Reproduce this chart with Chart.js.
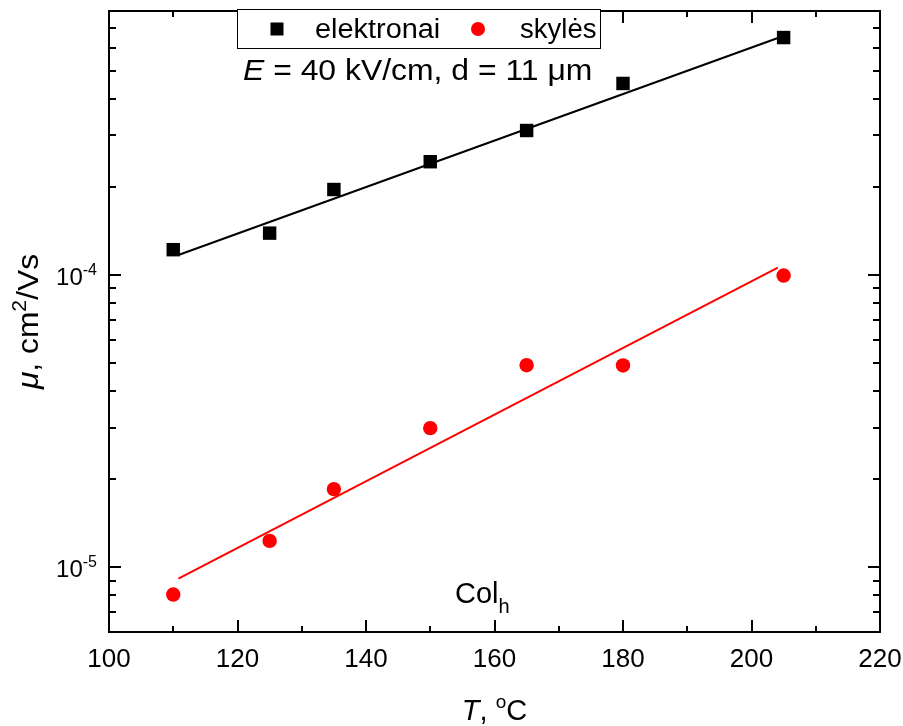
<!DOCTYPE html>
<html>
<head>
<meta charset="utf-8">
<script src="https://cdn.jsdelivr.net/npm/chart.js@4.4.1/dist/chart.umd.min.js"></script>
<style>
    html, body { margin: 0; padding: 0; background: #fff; }
    #wrap { width: 903px; height: 726px; }
</style>
</head>
<body>
<div id="wrap"><canvas id="chart" width="903" height="726"></canvas></div>
<script>
const temps = [110, 125, 135, 150, 165, 180, 205];
const electrons = [1.22e-4, 1.39e-4, 1.96e-4, 2.44e-4, 3.12e-4, 4.52e-4, 6.49e-4];
const holes = [8.06e-6, 1.23e-5, 1.85e-5, 2.99e-5, 4.91e-5, 4.90e-5, 9.95e-5];

// fit lines (end points)
const fitT = [110.8, 204.1];
const electronFit = [1.17e-4, 6.47e-4];
const holeFit = [9.13e-6, 1.059e-4];

// axes
const xMajor = [100, 120, 140, 160, 180, 200, 220];
const xMinor = [110, 130, 150, 170, 190, 210];
const xTickLabels = ["100", "120", "140", "160", "180", "200", "220"];
const yMajor = [1e-5, 1e-4];
const yExpLabels = ["-5", "-4"];
const yMinor = [7e-6, 8e-6, 9e-6, 2e-5, 3e-5, 4e-5, 5e-5, 6e-5, 7e-5, 8e-5, 9e-5,
    2e-4, 3e-4, 4e-4, 5e-4, 6e-4, 7e-4];

const FONT = "'Liberation Sans', Arial, sans-serif";

function toXY(xs, ys) {
    return xs.map((x, i) => ({ x, y: ys[i] }));
}

// draw a run of text pieces (with sub/superscripts) one after another
// sx = horizontal stretch, the original text is a bit wider than Arial
function drawRich(ctx, parts, x, y, align, sx) {
    sx = sx || 1;
    let total = 0;
    parts.forEach(p => {
        ctx.font = p.font;
        p.w = ctx.measureText(p.t).width;
        total += p.w;
    });
    let cx = 0;
    if (align === "center") cx = -total / 2;
    if (align === "right") cx = -total;
    ctx.save();
    ctx.translate(x, y);
    ctx.scale(sx, 1);
    ctx.textAlign = "left";
    ctx.textBaseline = "alphabetic";
    parts.forEach(p => {
        ctx.font = p.font;
        ctx.fillText(p.t, cx, p.dy || 0);
        cx += p.w;
    });
    ctx.restore();
}

const decorPlugin = {
    id: "decor",
    afterDraw(chart) {
        const ctx = chart.ctx;
        const a = chart.chartArea;
        const xs = chart.scales.x;
        const ys = chart.scales.y;
        ctx.save();
        ctx.strokeStyle = "#000";
        ctx.fillStyle = "#000";
        ctx.lineWidth = 2;

        // frame
        ctx.strokeRect(a.left, a.top, a.right - a.left, a.bottom - a.top);

        // ticks pointing inward, on all four sides
        ctx.beginPath();
        const xTick = (v, len) => {
            const px = Math.round(xs.getPixelForValue(v));
            ctx.moveTo(px, a.bottom); ctx.lineTo(px, a.bottom - len);
            ctx.moveTo(px, a.top); ctx.lineTo(px, a.top + len);
        };
        const yTick = (v, len) => {
            const py = Math.round(ys.getPixelForValue(v));
            ctx.moveTo(a.left, py); ctx.lineTo(a.left + len, py);
            ctx.moveTo(a.right, py); ctx.lineTo(a.right - len, py);
        };
        xMajor.forEach(v => xTick(v, 12));
        xMinor.forEach(v => xTick(v, 6));
        yMajor.forEach(v => yTick(v, 12));
        yMinor.forEach(v => yTick(v, 7));
        ctx.stroke();

        // x tick labels
        ctx.font = "26px " + FONT;
        ctx.textAlign = "center";
        ctx.textBaseline = "alphabetic";
        xMajor.forEach((v, i) => {
            ctx.fillText(xTickLabels[i], xs.getPixelForValue(v), 667);
        });

        // y tick labels 10^n
        yMajor.forEach((v, i) => {
            const py = ys.getPixelForValue(v);
            drawRich(ctx, [
                { t: "10", font: "24px " + FONT, dy: 10 },
                { t: yExpLabels[i], font: "16px " + FONT, dy: 0 }
            ], 97, py, "right");
        });

        // axis titles
        drawRich(ctx, [
            { t: "T", font: "italic 29px " + FONT },
            { t: ", ", font: "29px " + FONT },
            { t: "o", font: "19px " + FONT, dy: -12 },
            { t: "C", font: "29px " + FONT }
        ], (a.left + a.right) / 2, 720, "center");

        ctx.save();
        ctx.translate(38, (a.top + a.bottom) / 2);
        ctx.rotate(-Math.PI / 2);
        drawRich(ctx, [
            { t: "\u03bc", font: "italic 30px " + FONT },
            { t: ", cm", font: "30px " + FONT },
            { t: "2", font: "20px " + FONT, dy: -12 },
            { t: "/Vs", font: "30px " + FONT }
        ], 0, 0, "center", 1.06);
        ctx.restore();

        // annotations
        drawRich(ctx, [
            { t: "E", font: "italic 29px " + FONT },
            { t: " = 40 kV/cm, d = 11 \u03bcm", font: "29px " + FONT }
        ], 243, 80, "left", 1.1);
        drawRich(ctx, [
            { t: "Col", font: "29px " + FONT },
            { t: "h", font: "20px " + FONT, dy: 10 }
        ], 455, 603, "left");

        // legend box (covers the top axis line)
        ctx.fillStyle = "#fff";
        ctx.fillRect(237, 9, 364, 40);
        ctx.lineWidth = 1;
        ctx.strokeStyle = "#000";
        ctx.strokeRect(237.5, 9.5, 363, 39);
        ctx.fillStyle = "#000";
        ctx.fillRect(277 - 6.5, 29 - 6.5, 13, 13);
        drawRich(ctx, [{ t: "elektronai", font: "27px " + FONT }], 315, 38, "left", 1.07);
        ctx.fillStyle = "#ff0000";
        ctx.beginPath();
        ctx.arc(478, 29, 7, 0, Math.PI * 2);
        ctx.fill();
        ctx.fillStyle = "#000";
        drawRich(ctx, [{ t: "skyl\u0117s", font: "27px " + FONT }], 520, 38, "left", 1.02);

        ctx.restore();
    }
};

const ctx = document.getElementById("chart");

new Chart(ctx, {
    type: "scatter",
    data: {
        datasets: [
            {
                label: "elektronai",
                data: toXY(temps, electrons),
                pointStyle: "rect",
                pointRadius: 9.5,
                backgroundColor: "#000",
                borderColor: "#000",
                borderWidth: 0
            },
            {
                label: "skylės",
                data: toXY(temps, holes),
                pointStyle: "circle",
                pointRadius: 7.2,
                backgroundColor: "#ff0000",
                borderColor: "#ff0000",
                borderWidth: 0
            },
            {
                label: "fit e",
                data: toXY(fitT, electronFit),
                showLine: true,
                pointRadius: 0,
                borderColor: "#000",
                borderWidth: 2
            },
            {
                label: "fit h",
                data: toXY(fitT, holeFit),
                showLine: true,
                pointRadius: 0,
                borderColor: "#ff0000",
                borderWidth: 2
            }
        ]
    },
    options: {
        responsive: false,
        animation: false,
        layout: { padding: { left: 109, right: 23, top: 11, bottom: 94 } },
        plugins: {
            legend: { display: false },
            tooltip: { enabled: false }
        },
        scales: {
            x: { type: "linear", min: 100, max: 220, display: false },
            y: { type: "logarithmic", min: 6e-6, max: 8e-4, display: false }
        }
    },
    plugins: [decorPlugin]
});
</script>
</body>
</html>
